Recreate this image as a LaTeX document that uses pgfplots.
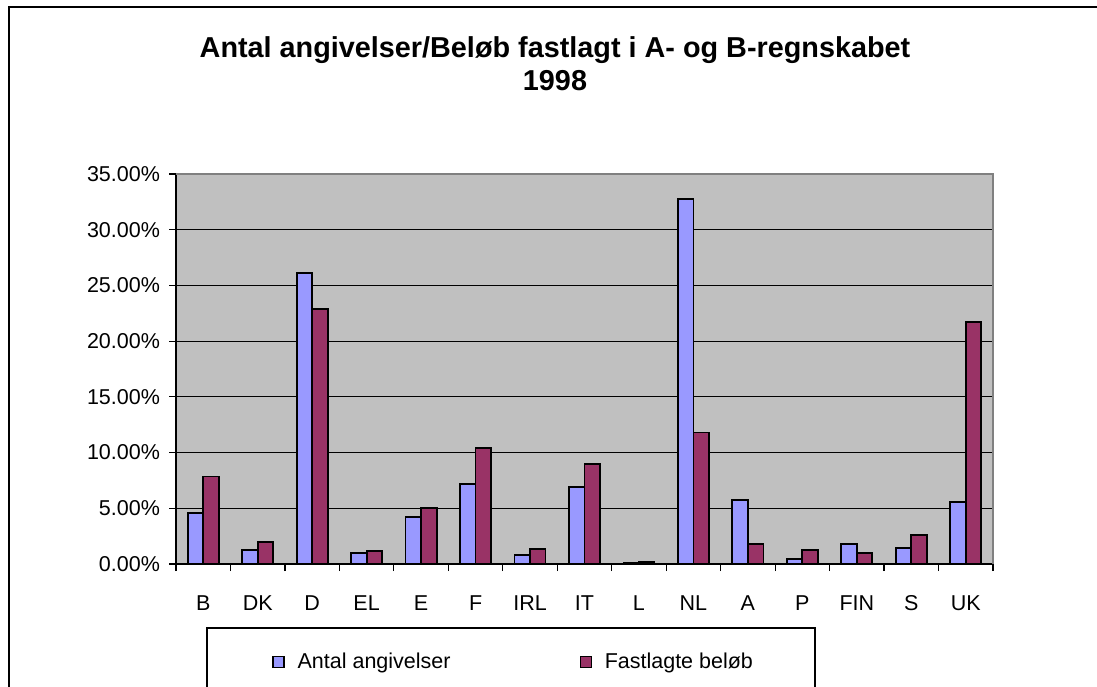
\documentclass[border=0pt]{standalone}
\usepackage{pgfplots}
\pgfplotsset{compat=1.18}
\usepackage{fontspec}
\setmainfont{Liberation Sans}
\definecolor{barblue}{HTML}{9999FF}
\definecolor{barred}{HTML}{993366}
\definecolor{plotbg}{HTML}{C0C0C0}
\definecolor{bordergray}{HTML}{808080}
\begin{document}
\begin{tikzpicture}
\begin{axis}[
  at={(88pt,61pt)}, anchor=south west,
  scale only axis, width=408.5pt, height=195pt,
  xmin=-0.5, xmax=14.5, ymin=0, ymax=35,
  axis background/.style={fill=plotbg},
  axis x line*=bottom, axis y line*=left,
  axis line style={black, line width=0.6pt},
  ytick={0,5,...,35},
  ymajorgrids, grid style={black, line width=0.5pt},
  yticklabel={\pgfmathprintnumber[fixed,fixed zerofill,precision=2]{\tick}\%},
  /pgf/number format/assume math mode=true,
  xtick={0,...,14},
  xticklabels={B,DK,D,EL,E,F,IRL,IT,L,NL,A,P,FIN,S,UK},
  minor xtick={-0.5,0.5,...,14.5},
  major x tick style={draw=none},
  tick align=outside, major tick length=3.5pt, minor tick length=3.5pt,
  tick style={black, line width=0.6pt},
  ticklabel style={font=\fontsize{10.75}{12}\selectfont},
  yticklabel style={xshift=-1pt},
  xticklabel style={anchor=base, yshift=-19.5pt},
  ybar=0pt, bar width=0.285,
  legend style={draw=none, fill=none, at={(axis description cs:0.1175,-0.251)}, anchor=west,
    inner sep=0pt, font=\fontsize{10.75}{12}\selectfont,
    /tikz/every odd column/.append style={column sep=4.5pt},
    /tikz/every even column/.append style={column sep=62.5pt}},
  legend columns=2,
  legend image code/.code={\draw[#1, line width=0.6pt] (0pt,-2.75pt) rectangle (5.5pt,2.75pt);},
  after end axis/.code={\draw[bordergray, line width=0.6pt] (rel axis cs:0,1) -- (rel axis cs:1,1) -- (rel axis cs:1,0);},
]
\addplot[fill=barblue, draw=black, line width=0.9pt, bar shift=-0.1425] coordinates {
(0,4.55) (1,1.26) (2,26.1) (3,0.96) (4,4.25) (5,7.18) (6,0.84) (7,6.94) (8,0.06) (9,32.78) (10,5.74) (11,0.48) (12,1.76) (13,1.47) (14,5.53)};
\addplot[fill=barred, draw=black, line width=0.9pt, bar shift=0.1425] coordinates {
(0,7.86) (1,2.0) (2,22.85) (3,1.14) (4,5.05) (5,10.44) (6,1.35) (7,8.97) (8,0.15) (9,11.81) (10,1.76) (11,1.23) (12,0.96) (13,2.6) (14,21.74)};
\legend{Antal angivelser, Fastlagte beløb}
\end{axis}
\draw[black, line width=0.8pt] (4.6pt,-10pt) -- (4.6pt,339.6pt) -- (560pt,339.6pt);
\node[font=\bfseries\fontsize{14.4}{16.5}\selectfont, align=center] at (277.5pt,311.25pt) {Antal angivelser/Beløb fastlagt i A- og B-regnskabet\\1998};
\draw[black, line width=0.6pt] (103.5pt,-10pt) rectangle (407.5pt,29pt);
\pgfresetboundingbox
\useasboundingbox (0pt,0pt) rectangle (548.5pt,343pt);
\end{tikzpicture}
\end{document}
